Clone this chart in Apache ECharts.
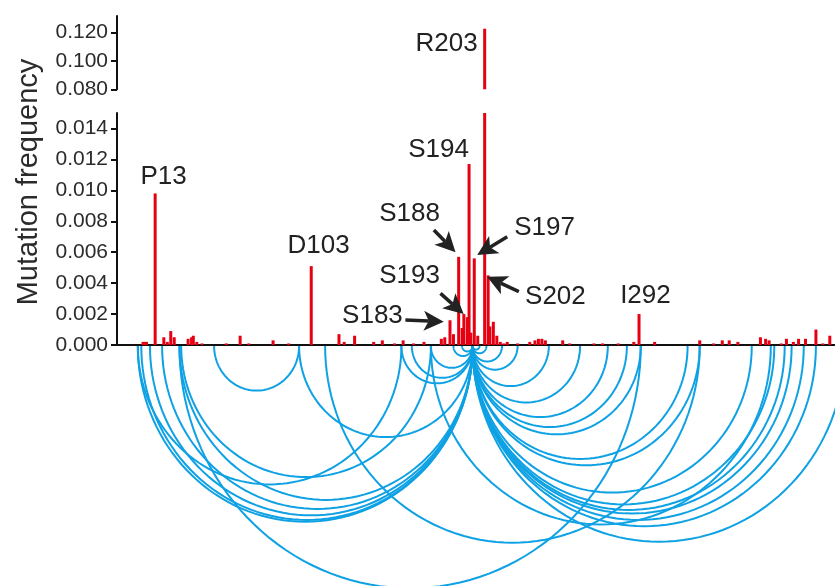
<!DOCTYPE html>
<html><head><meta charset="utf-8">
<script src="https://cdn.jsdelivr.net/npm/echarts@6/dist/echarts.min.js"></script>
<style>html,body{margin:0;padding:0;background:#fff}#c{width:835px;height:586px}</style>
</head><body><div id="c"></div>
<script>
// Amino-acid positions and their mutation frequencies
const positions = [6,7,8,13,18,20,22,24,32,34,35,37,40,54,62,67,81,90,103,119,122,128,139,144,151,156,162,168,178,180,183,185,188,190,191,193,194,195,197,199,203,205,206,208,210,212,214,216,222,229,232,234,236,238,248,252,266,271,280,289,292,301,327,335,340,344,349,362,365,367,374,377,381,384,388,394,398,402];
const frequencies = [0.0002,0.0002,0.0002,0.0098,0.0005,0.0002,0.0009,0.0005,0.0004,0.0005,0.0006,0.0002,0.0001,0.0001,0.0006,0.0001,0.0003,0.0001,0.0051,0.0007,0.0002,0.0006,0.0002,0.0003,0.0001,0.0003,0.0001,0.0002,0.0004,0.0005,0.0016,0.0007,0.0057,0.0011,0.0020,0.0018,0.0117,0.0008,0.0056,0.0006,0.1225,0.0045,0.0012,0.0015,0.0006,0.0002,0.0001,0.0002,0.0001,0.0002,0.0003,0.0004,0.0004,0.0003,0.0003,0.0001,0.0001,0.0001,0.0001,0.0002,0.0020,0.0002,0.0003,0.0001,0.0003,0.0003,0.0002,0.0005,0.0004,0.0003,0.0001,0.0004,0.0002,0.0004,0.0004,0.0010,0.0001,0.0006];
const upperTicks = [0.08, 0.10, 0.12];
const lowerTicks = [0, 0.002, 0.004, 0.006, 0.008, 0.010, 0.012, 0.014];
// Co-mutation links (pairs of positions)
const arcStarts = [47,96,3,5,10,17,27,3,28,27,111,155,161,172,172,185,190,196,196,196,196,196,196,196,196,196,196,196,196,196,196,196,196,196,196,196];
const arcEnds   = [96,196,196,196,196,196,196,155,172,293,327,196,196,196,368,196,196,200,204,213,222,240,258,274,285,293,320,327,357,370,376,380,387,394,411,196];
// Annotations
const labelTexts = ['P13','D103','S194','S188','S197','S193','S183','S202','I292'];
const labelX = [17.9,107.2,176.4,159.7,237.5,159.7,138.3,243.8,295.7];
const labelY = [0.01086,0.0064,0.0126,0.00847,0.00757,0.00446,0.00188,0.0031,0.00317];
const upperLabelTexts = ['R203'];
const upperLabelX = [181];
const upperLabelY = [0.1118];
const arrowFromX = [173.7,216.0,177.5,157.3,222.7];
const arrowFromY = [0.00744,0.0070,0.00334,0.00162,0.00345];
const arrowToX = [186.2,198.7,190.9,179.4,204.4];
const arrowToY = [0.0060,0.00582,0.0020,0.00151,0.00442];

const FONT = 'Liberation Sans';
const barData = positions.map((p, i) => [p, frequencies[i]]);
const upperBarData = barData.filter(d => d[1] >= upperTicks[0]);
const arcData = arcStarts.map((s, i) => [s, arcEnds[i]]);
const labelData = labelTexts.map((t, i) => [labelX[i], labelY[i]]);
const upperLabelData = upperLabelTexts.map((t, i) => [upperLabelX[i], upperLabelY[i]]);
const arrowData = arrowFromX.map((x, i) => [x, arrowFromY[i], arrowToX[i], arrowToY[i]]);

const axisCommon = {
  type: 'value', splitLine: {show: false},
  axisLine: {show: true, onZero: false, lineStyle: {color: '#111', width: 2}},
  axisTick: {show: true, length: 6, lineStyle: {color: '#111', width: 2}},
  axisLabel: {color: '#2b2b2b', fontSize: 21, fontFamily: FONT, margin: 9,
    formatter: v => v.toFixed(3)}
};

const chart = echarts.init(document.getElementById('c'), null, {renderer: 'canvas'});
const textItem = (texts) => function (params, api) {
  const p = api.coord([api.value(0), api.value(1)]);
  return {type: 'text', x: p[0], y: p[1], style: {text: texts[params.dataIndex], fontSize: 26,
    fontFamily: FONT, fill: '#222', align: 'center', verticalAlign: 'middle'}};
};

chart.setOption({
  animation: false,
  backgroundColor: '#fff',
  grid: [
    {left: 117, right: 0, top: 16, height: 73.3},
    {left: 117, right: 0, top: 113, height: 232}
  ],
  xAxis: [
    {type: 'value', gridIndex: 0, min: -9, max: 405, show: false},
    {type: 'value', gridIndex: 1, min: -9, max: 405, splitLine: {show: false},
     axisLine: {show: true, onZero: false, lineStyle: {color: '#111', width: 2}},
     axisTick: {show: false}, axisLabel: {show: false}}
  ],
  yAxis: [
    Object.assign({}, axisCommon, {gridIndex: 0, min: 0.08, max: 0.08 + 73.3 / 1425,
      axisTick: Object.assign({}, axisCommon.axisTick, {customValues: upperTicks}),
      axisLabel: Object.assign({}, axisCommon.axisLabel, {customValues: upperTicks})}),
    Object.assign({}, axisCommon, {gridIndex: 1, min: 0, max: 0.015,
      axisTick: Object.assign({}, axisCommon.axisTick, {customValues: lowerTicks}),
      axisLabel: Object.assign({}, axisCommon.axisLabel, {customValues: lowerTicks})})
  ],
  graphic: [{
    type: 'text', x: 29, y: 182, rotation: Math.PI / 2,
    style: {text: 'Mutation frequency', fontSize: 29, fontFamily: FONT, fill: '#2b2b2b',
      align: 'center', verticalAlign: 'middle'}
  }],
  series: [
    {type: 'custom', xAxisIndex: 1, yAxisIndex: 1, clip: false, z: 1,
     data: arcData, encode: {x: [0, 1]},
     renderItem: function (params, api) {
       const a = api.coord([api.value(0), 0]);
       const b = api.coord([api.value(1), 0]);
       const cx = (a[0] + b[0]) / 2, r = Math.abs(b[0] - a[0]) / 2, d = r * 1.05;
       const pts = [];
       for (let i = 0; i <= 72; i++) {
         const t = Math.PI * i / 72;
         pts.push([cx + r * Math.cos(t), a[1] + 1 + d * Math.sin(t)]);
       }
       return {type: 'polyline', shape: {points: pts},
         style: {stroke: '#0ea1e4', lineWidth: 2, fill: null}};
     }},
    {type: 'bar', xAxisIndex: 0, yAxisIndex: 0, data: upperBarData, barWidth: 3,
     itemStyle: {color: '#e60012'}, z: 3},
    {type: 'bar', xAxisIndex: 1, yAxisIndex: 1, data: barData, barWidth: 3,
     itemStyle: {color: '#e60012'}, z: 3},
    {type: 'custom', xAxisIndex: 1, yAxisIndex: 1, clip: false, z: 5,
     data: labelData, renderItem: textItem(labelTexts)},
    {type: 'custom', xAxisIndex: 0, yAxisIndex: 0, clip: false, z: 5,
     data: upperLabelData, renderItem: textItem(upperLabelTexts)},
    {type: 'custom', xAxisIndex: 1, yAxisIndex: 1, clip: false, z: 6,
     data: arrowData, encode: {x: [0, 2], y: [1, 3]},
     renderItem: function (params, api) {
       const s = api.coord([api.value(0), api.value(1)]);
       const e = api.coord([api.value(2), api.value(3)]);
       const dx = e[0] - s[0], dy = e[1] - s[1], L = Math.hypot(dx, dy);
       const ux = dx / L, uy = dy / L, nx = -uy, ny = ux;
       const hl = 20, hw = 10, notch = 5;
       const bx = e[0] - ux * hl, by = e[1] - uy * hl;
       const n = [e[0] - ux * (hl - notch), e[1] - uy * (hl - notch)];
       return {type: 'group', children: [
         {type: 'line', shape: {x1: s[0], y1: s[1], x2: n[0], y2: n[1]},
          style: {stroke: '#222', lineWidth: 3.5}},
         {type: 'polygon', shape: {points: [e, [bx + nx * hw, by + ny * hw], n, [bx - nx * hw, by - ny * hw]]},
          style: {fill: '#222'}}
       ]};
     }}
  ]
});
</script></body></html>
